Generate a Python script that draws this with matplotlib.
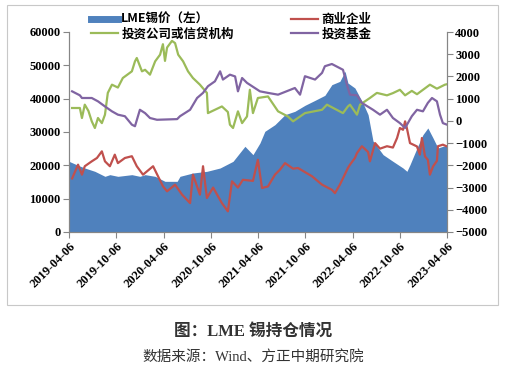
import matplotlib
matplotlib.use("Agg")
import matplotlib.pyplot as plt
import matplotlib.dates as mdates
from matplotlib.lines import Line2D
from matplotlib.patches import Rectangle
import pandas as pd

# LME tin price (left axis)
price_dates = ["2019-04-06", "2019-05-11", "2019-06-06", "2019-07-15", "2019-08-23", "2019-09-11",
               "2019-10-12", "2019-12-05", "2020-01-05", "2020-01-25", "2020-03-04", "2020-04-11",
               "2020-05-28", "2020-06-08", "2020-07-28", "2020-09-20", "2020-11-10", "2020-12-30",
               "2021-02-14", "2021-03-17", "2021-04-13", "2021-05-02", "2021-06-10", "2021-07-19",
               "2021-08-26", "2021-10-04", "2021-11-12", "2021-12-20", "2022-01-16", "2022-02-16",
               "2022-03-08", "2022-03-19", "2022-04-15", "2022-05-16", "2022-06-05", "2022-06-24",
               "2022-08-02", "2022-09-09", "2022-10-18", "2022-11-02", "2022-11-14", "2022-12-11",
               "2023-01-03", "2023-01-22", "2023-02-11", "2023-03-02", "2023-03-21", "2023-04-06"]
price = [21200, 20000, 19200, 18200, 16700, 17200,
         16700, 17200, 16700, 17200, 16700, 15200,
         15200, 16700, 17700, 18200, 19200, 21200,
         25700, 23200, 26700, 30200, 32200, 35200,
         36200, 38000, 39500, 41000, 44200, 45200,
         48200, 44700, 43200, 38700, 35200, 27300,
         23200, 21200, 19200, 18200, 20200, 25200,
         29200, 31200, 28200, 25200, 25700, 26000]

# commercial undertakings (right axis)
comm_dates = ["2019-04-18", "2019-05-11", "2019-05-26", "2019-06-06", "2019-07-03", "2019-07-23",
              "2019-08-11", "2019-08-23", "2019-09-11", "2019-09-30", "2019-10-12", "2019-11-08",
              "2019-12-05", "2019-12-24", "2020-01-17", "2020-02-25", "2020-03-15", "2020-04-03",
              "2020-04-19", "2020-05-20", "2020-06-16", "2020-07-17", "2020-07-28", "2020-08-24",
              "2020-09-05", "2020-09-20", "2020-10-14", "2020-11-17", "2020-12-10", "2020-12-26",
              "2021-01-18", "2021-02-06", "2021-03-17", "2021-04-05", "2021-04-21", "2021-05-14",
              "2021-06-10", "2021-06-29", "2021-07-19", "2021-08-19", "2021-09-07", "2021-10-31",
              "2021-12-09", "2022-01-16", "2022-01-28", "2022-02-16", "2022-03-19", "2022-03-27",
              "2022-04-15", "2022-04-23", "2022-05-12", "2022-06-05", "2022-06-12", "2022-07-02",
              "2022-07-21", "2022-08-17", "2022-09-09", "2022-09-25", "2022-10-06", "2022-10-18",
              "2022-10-26", "2022-11-02", "2022-11-14", "2022-12-11", "2022-12-22", "2022-12-30",
              "2023-01-11", "2023-01-22", "2023-01-30", "2023-02-11", "2023-02-26", "2023-03-02",
              "2023-03-21", "2023-04-06"]
comm = [-2590, -1970, -2420, -2040, -1820, -1670,
        -1370, -1820, -2040, -1520, -1900, -1670,
        -1590, -2040, -2420, -2040, -2490, -2940,
        -3170, -2870, -3320, -3700, -2420, -3320,
        -2040, -3470, -3000, -3700, -4070, -2720,
        -3000, -2650, -2700, -1750, -3020, -2950,
        -2420, -2200, -1900, -2150, -2120, -2490,
        -2870, -3100, -3250, -2870, -2120, -1970,
        -1670, -1450, -1140, -1400, -1820, -1000,
        -1250, -1140, -1200, -770, -320, -400,
        -20, -330, -1000, -1150, -1520, -770,
        -1600, -1750, -2420, -2050, -1800, -1140,
        -1070, -1150]

# investment firms or credit institutions (right axis)
firm_dates = ["2019-04-18", "2019-05-18", "2019-05-26", "2019-06-06", "2019-06-20", "2019-07-03",
              "2019-07-15", "2019-07-27", "2019-08-11", "2019-08-23", "2019-09-03", "2019-09-19",
              "2019-10-12", "2019-10-31", "2019-12-05", "2019-12-17", "2019-12-24", "2020-01-13",
              "2020-01-25", "2020-02-13", "2020-03-04", "2020-03-23", "2020-04-03", "2020-04-11",
              "2020-04-19", "2020-05-08", "2020-05-20", "2020-06-01", "2020-06-20", "2020-07-09",
              "2020-07-28", "2020-08-24", "2020-09-20", "2020-09-24", "2020-10-21", "2020-11-17",
              "2020-12-10", "2020-12-18", "2020-12-30", "2021-01-18", "2021-02-03", "2021-02-22",
              "2021-03-05", "2021-03-17", "2021-04-05", "2021-05-14", "2021-06-22", "2021-07-30",
              "2021-08-19", "2021-10-04", "2021-12-09", "2021-12-28", "2022-02-28", "2022-03-19",
              "2022-03-27", "2022-04-23", "2022-05-05", "2022-06-12", "2022-07-09", "2022-08-17",
              "2022-09-09", "2022-10-06", "2022-10-26", "2022-11-21", "2022-12-11", "2023-01-30",
              "2023-02-26", "2023-03-29", "2023-04-06"]
firm = [580, 580, 130, 730, 450, -20,
        -320, 130, -100, 280, 1260, 1630,
        1500, 1930, 2230, 2680, 2830, 2230,
        2300, 2080, 2680, 2980, 3450, 2700,
        3300, 3600, 3500, 2980, 2680, 2230,
        1930, 1630, 1260, 350, 500, 650,
        400, -170, -320, 430, -100, 200,
        1400, 350, 1030, 1100, 430, 200,
        -20, 350, 500, 730, 350, 650,
        730, 280, 730, 1030, 1260, 1150,
        1250, 1400, 1150, 1350, 1200, 1630,
        1450, 1630, 1650]

# investment funds (right axis)
fund_dates = ["2019-04-18", "2019-05-18", "2019-05-26", "2019-07-03", "2019-07-27", "2019-08-23",
              "2019-09-19", "2019-10-12", "2019-11-08", "2019-12-05", "2019-12-17", "2020-01-05",
              "2020-01-25", "2020-02-13", "2020-03-11", "2020-05-28", "2020-06-08", "2020-07-17",
              "2020-08-13", "2020-09-05", "2020-09-24", "2020-10-21", "2020-11-10", "2020-11-21",
              "2020-12-18", "2021-01-07", "2021-01-18", "2021-02-03", "2021-02-22", "2021-04-13",
              "2021-05-14", "2021-06-22", "2021-08-26", "2021-09-15", "2021-10-04", "2021-11-12",
              "2021-12-09", "2021-12-20", "2022-01-16", "2022-02-28", "2022-03-15", "2022-03-27",
              "2022-04-23", "2022-05-12", "2022-06-24", "2022-07-21", "2022-08-17", "2022-09-09",
              "2022-10-06", "2022-10-26", "2022-11-21", "2022-12-11", "2023-01-03", "2023-01-22",
              "2023-02-07", "2023-02-26", "2023-03-10", "2023-03-21", "2023-04-06"]
fund = [1330, 1150, 1030, 1030, 880, 650,
        430, 280, 210, -170, -240, 500,
        350, 130, 50, 80, 210, 500,
        1030, 1260, 1560, 1780, 2230, 1860,
        2080, 2000, 1330, 1930, 1710, 1330,
        1260, 1180, 1480, 1180, 2010, 1860,
        2160, 2460, 2560, 2300, 1630, 1180,
        1150, 810, 500, 280, 500, 130,
        -100, -320, 210, 500, 430, 810,
        1030, 880, 280, -100, -170]

labels = ["LME锡价（左）", "投资公司或信贷机构", "商业企业", "投资基金"]
tick_dates = ["2019-04-06", "2019-10-06", "2020-04-06", "2020-10-06", "2021-04-06",
              "2021-10-06", "2022-04-06", "2022-10-06", "2023-04-06"]

blue, red, green, purple = "#4F81BD", "#C0504D", "#9BBB59", "#8064A2"
num_font = {"family": "Liberation Serif", "weight": "bold", "size": 9}

fig = plt.figure(figsize=(5.07, 3.77), dpi=100)
fig.patches.append(Rectangle((7 / 507, 1 - 305 / 377), 491 / 507, 300 / 377,
                             transform=fig.transFigure, fill=False, ec="#C8C8C8", lw=0.8))
ax = fig.add_axes([69 / 507, 1 - 232 / 377, 378 / 507, 200 / 377])
ax2 = ax.twinx()

ax.fill_between(pd.to_datetime(price_dates), price, 0, color=blue, lw=0)
ax2.plot(pd.to_datetime(comm_dates), comm, color=red, lw=1.6)
ax2.plot(pd.to_datetime(firm_dates), firm, color=green, lw=1.6)
ax2.plot(pd.to_datetime(fund_dates), fund, color=purple, lw=1.6)

ax.set_xlim(pd.Timestamp("2019-04-06"), pd.Timestamp("2023-04-06"))
ax.set_ylim(0, 60000)
ax2.set_ylim(-5000, 4000)
ax.set_yticks(range(0, 60001, 10000))
ax2.set_yticks(range(-5000, 4001, 1000))
ax.set_xticks(pd.to_datetime(tick_dates))
ax.xaxis.set_major_formatter(mdates.DateFormatter("%Y-%m-%d"))

for a in (ax, ax2):
    for s in a.spines.values():
        s.set_color("#868686")
    a.spines["top"].set_visible(False)
    a.tick_params(length=4, width=0.8, color="#868686", pad=2)
for lab in ax.get_yticklabels() + ax2.get_yticklabels():
    lab.set_fontproperties(num_font)
for lab in ax.get_xticklabels():
    lab.set_fontproperties(num_font)
    lab.set_rotation(45)
    lab.set_ha("right")
    lab.set_rotation_mode("anchor")

handles = [Line2D([], [], color=blue, lw=5), Line2D([], [], color=green, lw=1.6),
           Line2D([], [], color=red, lw=1.6), Line2D([], [], color=purple, lw=1.6)]
fig.legend(handles, labels, ncol=2, loc="upper left", bbox_to_anchor=(80 / 507, 1 - 2 / 377),
           frameon=False, prop={"family": "Noto Sans CJK SC", "weight": "bold", "size": 9},
           handlelength=2.1, handletextpad=0.3, columnspacing=4.6, labelspacing=0.1)

fig.text(0.5, 1 - 332 / 377, "图：LME 锡持仓情况", ha="center", va="center", color="#333333",
         family=["Liberation Serif", "Noto Sans CJK SC"], weight="bold", size=12)
fig.text(0.5, 1 - 357 / 377, "数据来源：Wind、方正中期研究院", ha="center", va="center", color="#333333",
         family=["Liberation Serif", "Noto Sans CJK SC"], size=10.5)

fig.savefig("out.png", dpi=100)
